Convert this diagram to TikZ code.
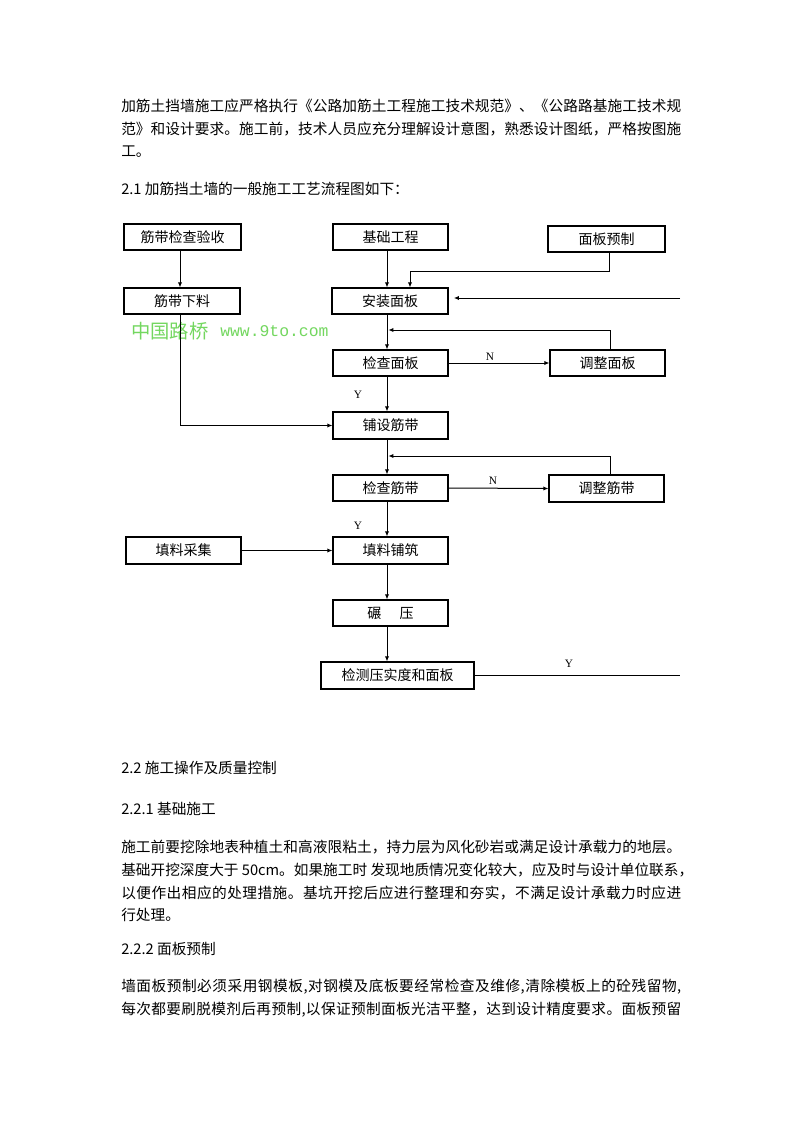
\documentclass[tikz,border=0pt]{standalone}
\usepackage{fontspec}
\setmainfont{Noto Sans CJK SC}
\newfontfamily\labfont{Liberation Serif}
\newfontfamily\monofont{Liberation Mono}
\usetikzlibrary{arrows.meta}
\definecolor{wm}{RGB}{115,215,95}
\def\spreadloop#1{\ifx#1\relax\else#1\hskip 0pt plus 1fil minus 0.6pt\expandafter\spreadloop\fi}
\newcommand\jline[1]{\hbox to 420pt{\spreadloop#1\relax\unskip}}
\tikzset{
  bx/.style n args={2}{draw=black, line width=0.8pt, fill=white, inner sep=0pt,
    minimum width=#1*0.75pt, minimum height=#2*0.75pt,
    font=\fontsize{10.5pt}{12pt}\selectfont},
  txt/.style={anchor=west, inner sep=0pt, font=\fontsize{11pt}{13pt}\selectfont},
  arr/.style={draw=black, line width=0.75pt, -{Latex[length=3.8pt,width=3.2pt]}},
  ln/.style={draw=black, line width=0.75pt},
  yn/.style={inner sep=0pt, font=\labfont\fontsize{8.5pt}{10pt}\selectfont}
}
\begin{document}
\begin{tikzpicture}[x=0.75pt, y=-0.75pt]
\useasboundingbox[fill=white] (0,0) rectangle (794,1123);

% --- body text above ---
\node[txt] (t1) at (121,106) {\jline{加筋土挡墙施工应严格执行《公路加筋土工程施工技术规范》、《公路路基施工技术规}};
\node[txt] (t2) at (121,129) {\jline{范》和设计要求。施工前，技术人员应充分理解设计意图，熟悉设计图纸，严格按图施}};
\node[txt] (t3) at (121,152) {工。};
\node[txt] (t4) at (121,189) {2.1 加筋挡土墙的一般施工工艺流程图如下：};

% --- watermark ---
\node[anchor=west, inner sep=0pt, text=wm, font=\fontsize{14.5pt}{16pt}\selectfont] (wm1) at (131,331) {中国路桥};
\node[anchor=west, inner sep=0pt, text=wm, font=\monofont\fontsize{12.3pt}{14pt}\selectfont] (wm2) at (220,331) {www.9to.com};

% --- guide coordinates ---
\coordinate (vL) at (180,0);
\coordinate (vx) at (387,0);
\coordinate (vp) at (410,0);
\coordinate (c1) at (609,271);
\coordinate (c2) at (610,330);
\coordinate (c3) at (610,456);
\coordinate (r1) at (680,298);
\coordinate (r2) at (680,675.5);

% --- boxes ---
\node[bx={117}{26}] (a) at (182.5,237) {筋带检查验收};
\node[bx={116}{26}] (b) at (182,301) {筋带下料};
\node[bx={115}{26}] (c) at (390.5,237) {基础工程};
\node[bx={117}{26}] (d) at (606.5,239) {面板预制};
\node[bx={116}{26}] (e) at (390,301) {安装面板};
\node[bx={115}{26}] (f) at (390.5,363) {检查面板};
\node[bx={115}{26}] (g) at (607.5,363) {调整面板};
\node[bx={115}{27}] (h) at (390.5,425.5) {铺设筋带};
\node[bx={115}{26}] (i) at (390.5,488) {检查筋带};
\node[bx={115}{27}] (j) at (606.5,488.5) {调整筋带};
\node[bx={115}{27}] (k) at (183.5,550.5) {填料采集};
\node[bx={115}{27}] (l) at (390.5,550.5) {填料铺筑};
\node[bx={115}{26}] (m) at (390.5,613) {碾\hspace{1.3em}压};
\node[bx={153}{27}] (n) at (397.5,675.5) {检测压实度和面板};

% --- connectors ---
\draw[arr] (a.south -| vL) -- (b.north -| vL);
\draw[arr] (b.south -| vL) |- (h.west);
\draw[arr] (c.south -| vx) -- (e.north -| vx);
\draw[arr] (d.south -| c1) -- (c1) -| (e.north -| vp);
\draw[arr, shorten >=4pt] (r1) -- (e.east |- r1);
\draw[arr] (e.south -| vx) -- (f.north -| vx);
\draw[arr, shorten >=1pt] (g.north -| c2) -- (c2) -- (vx |- c2);
\draw[arr] (f.east) -- (g.west);
\draw[arr] (f.south -| vx) -- (h.north -| vx);
\draw[arr] (h.south -| vx) -- (i.north -| vx);
\draw[arr, shorten >=1pt] (j.north -| c3) -- (c3) -- (vx |- c3);
\draw[arr] (i.east) -- (j.west);
\draw[arr] (i.south -| vx) -- (l.north -| vx);
\draw[arr] (k.east) -- (l.west);
\draw[arr] (l.south -| vx) -- (m.north -| vx);
\draw[arr] (m.south -| vx) -- (n.north -| vx);
\draw[ln] (n.east) -- (r2);

% --- Y / N labels ---
\node[yn] (n1) at (490,357) {N};
\node[yn] (n2) at (493,481) {N};
\node[yn] (y1) at (358,395) {Y};
\node[yn] (y2) at (358,526) {Y};
\node[yn] (y3) at (569,664) {Y};

% --- body text below ---
\node[txt] (s1) at (121,768) {2.2 施工操作及质量控制};
\node[txt] (s2) at (121,809) {2.2.1 基础施工};
\node[txt] (p1) at (121,847) {\jline{施工前要挖除地表种植土和高液限粘土，持力层为风化砂岩或满足设计承载力的地层。}};
\node[txt] (p2) at (121,870) {基础开挖深度大于 50cm。如果施工时 发现地质情况变化较大，应及时与设计单位联系，};
\node[txt] (p3) at (121,893) {\jline{以便作出相应的处理措施。基坑开挖后应进行整理和夯实，不满足设计承载力时应进}};
\node[txt] (p4) at (121,915) {行处理。};
\node[txt] (s3) at (121,949) {2.2.2 面板预制};
\node[txt] (q1) at (121,987) {\jline{墙面板预制必须采用钢模板,对钢模及底板要经常检查及维修,清除模板上的砼残留物,}};
\node[txt] (q2) at (121,1010) {\jline{每次都要刷脱模剂后再预制,以保证预制面板光洁平整，达到设计精度要求。面板预留}};
\end{tikzpicture}
\end{document}
